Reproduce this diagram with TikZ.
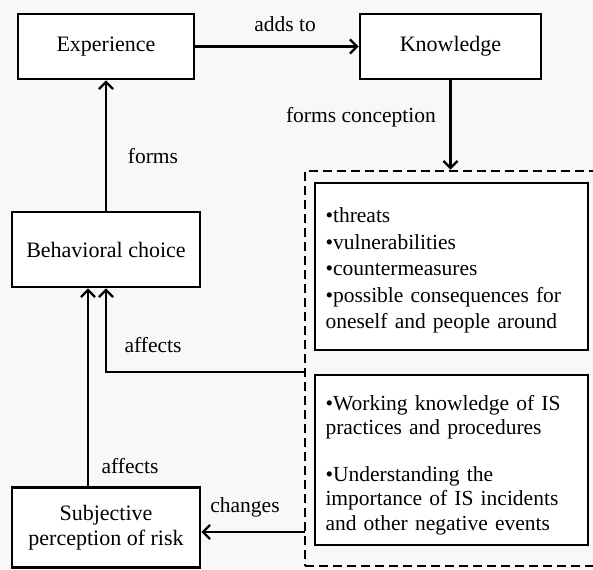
\documentclass[tikz,border=0pt]{standalone}
\usepackage{fontspec}
\setmainfont{Liberation Serif}
\usetikzlibrary{arrows.meta}
\definecolor{paper}{RGB}{248,248,248}
\tikzset{
  x=1pt, y=-1pt,
  box/.style={draw, line width=2.8pt, fill=white, inner sep=0pt, align=center,
    font=\fontsize{22}{25}\selectfont},
  panel/.style={draw, line width=2.8pt, fill=white, inner sep=0pt},
  listtext/.style={inner sep=0pt, align=left, text width=252pt,
    font=\fontsize{21.5}{26.5}\selectfont},
  lbl/.style={font=\fontsize{21.5}{24}\selectfont, inner sep=0pt},
  conn/.style={line width=2.3pt, -{Straight Barb[length=7pt,width=14pt,line width=2.3pt]}},
}
\begin{document}
\begin{tikzpicture}
\useasboundingbox (0,0) rectangle (593,569);
\clip (0,0) rectangle (593,569);
\fill[paper] (0,0) rectangle (593,569);

% dashed frame around the two concept boxes (open to the right)
\node[draw, dashed, dash pattern=on 9pt off 5pt, line width=2.8pt,
  minimum width=320pt, minimum height=395pt, inner sep=0pt] (frame) at (465,368.5) {};

% main boxes
\node[box, minimum width=176pt, minimum height=65pt] (exp) at (106,46.5) {Experience};
\node[box, minimum width=181pt, minimum height=65pt] (know) at (450.5,46.5) {Knowledge};
\node[box, minimum width=188pt, minimum height=75pt] (beh) at (106,249.5) {Behavioral choice};
\node[box, minimum width=188pt, minimum height=80pt] (subj) at (106,527.5)
  {Subjective\\perception of risk};

% concept panels inside the frame
\node[panel, minimum width=273pt, minimum height=167pt] (kb) at (451.5,266.5) {};
\node[listtext] (kbt) at ([yshift=-4pt]kb.center)
  {\textbullet threats\\
   \textbullet vulnerabilities\\
   \textbullet countermeasures\\
   \textbullet possible consequences for\\
   oneself and people around};
\node[panel, minimum width=273pt, minimum height=170pt] (ub) at (451.5,460) {};
\node[listtext, font=\fontsize{21.5}{24.5}\selectfont] (ubt) at ([yshift=-5pt]ub.center)
  {\textbullet Working knowledge of IS\\
   practices and procedures\\[22pt]
   \textbullet Understanding the\\
   importance of IS incidents\\
   and other negative events};

% connector end points on the dashed frame
\coordinate (fa) at (305,372);
\coordinate (fc) at (305,532);

% connectors
\draw[conn] (exp.east) -- (know.west);
\draw[conn] (know.south) -- (know.south |- frame.north);
\draw[conn] (beh.north) -- (exp.south);
\draw[conn] (fa) -- (fa -| beh.south) -- (beh.south);
\draw[conn] (subj.north -| 88,0) -- (beh.south -| 88,0);
\draw[conn] (fc) -- (fc -| subj.east);

% connector labels
\node[lbl] (l1) at (285,24) {adds to};
\node[lbl] (l2) at (361,117) {forms conception};
\node[lbl] (l3) at (153,156) {forms};
\node[lbl] (l4) at (153,345) {affects};
\node[lbl] (l5) at (130,466) {affects};
\node[lbl] (l6) at (245,507) {changes};
\end{tikzpicture}
\end{document}
